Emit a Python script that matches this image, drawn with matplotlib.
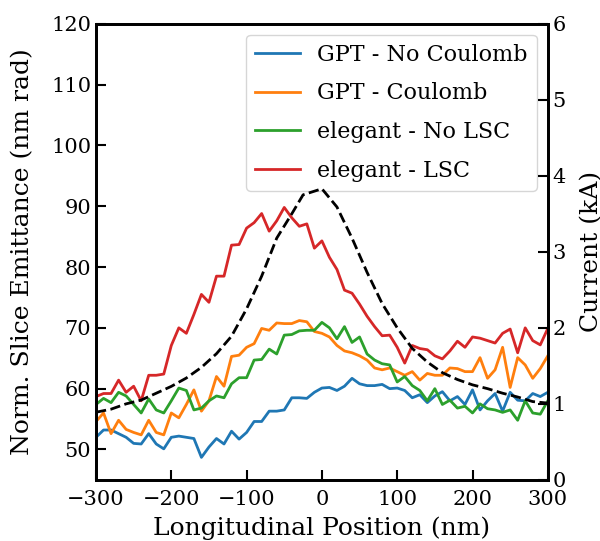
import numpy as np
import matplotlib.pyplot as plt

plt.rcParams.update({'font.size': 15, 'font.family': 'DejaVu Serif'})

# Slice positions (nm)
pos = np.arange(-300, 301, 10)

gpt_no_coulomb = [52.0, 53.2, 53.2, 52.6, 52.0, 51.0, 50.9, 52.6, 50.9, 50.1,
                  52.0, 52.2, 52.0, 51.8, 48.7, 50.4, 51.8, 50.9, 53.0, 51.7,
                  52.8, 54.6, 54.6, 56.3, 56.3, 56.5, 58.5, 58.5, 58.4, 59.4,
                  60.1, 60.2, 59.7, 60.4, 61.7, 60.8, 60.5, 60.5, 60.7, 60.0,
                  60.1, 59.7, 58.5, 59.0, 57.7, 58.8, 59.5, 58.0, 58.7, 57.4,
                  59.8, 56.5, 58.0, 59.2, 56.3, 59.4, 58.1, 58.0, 59.2, 58.7,
                  59.4]
gpt_coulomb = [54.6, 56.0, 52.6, 54.8, 53.3, 52.8, 52.4, 54.8, 52.8, 52.4,
               56.0, 55.2, 57.4, 59.8, 56.3, 58.0, 62.0, 60.4, 65.3, 65.5,
               66.8, 67.4, 69.9, 69.6, 70.8, 70.7, 70.7, 71.2, 71.0, 69.4,
               69.1, 68.5, 67.1, 66.2, 65.9, 65.4, 64.7, 63.4, 63.1, 63.4,
               62.8, 62.2, 62.8, 61.4, 62.5, 62.2, 62.2, 63.4, 63.3, 62.8,
               62.8, 65.1, 61.7, 63.1, 66.8, 60.2, 65.1, 63.9, 61.7, 63.3,
               65.4]
elegant_no_lsc = [57.4, 58.4, 57.7, 59.4, 58.8, 57.4, 56.0, 58.3, 56.5, 56.0,
                  58.0, 60.1, 59.7, 56.5, 56.8, 58.0, 58.8, 58.5, 60.8, 61.8,
                  61.8, 64.7, 64.8, 66.5, 65.7, 68.8, 68.9, 69.5, 69.6, 69.6,
                  70.9, 70.0, 68.2, 70.2, 67.6, 68.5, 65.7, 64.7, 64.1, 63.9,
                  61.1, 62.0, 60.5, 59.7, 58.0, 60.0, 57.4, 58.1, 56.8, 57.1,
                  56.0, 57.5, 56.7, 56.5, 56.1, 56.5, 54.8, 58.0, 56.0, 55.8,
                  58.0]
elegant_lsc = [58.7, 59.2, 59.2, 61.4, 59.4, 60.4, 58.0, 62.2, 62.2, 62.4,
               67.1, 70.0, 69.1, 72.2, 75.5, 74.2, 78.5, 78.5, 83.6, 83.7,
               86.4, 87.3, 88.8, 85.9, 87.6, 89.8, 88.1, 86.7, 87.1, 83.1,
               84.3, 81.6, 79.6, 76.2, 75.7, 73.9, 71.9, 70.2, 68.7, 68.8,
               66.8, 64.2, 67.1, 66.6, 66.4, 65.4, 64.9, 66.2, 67.8, 66.8,
               68.5, 68.3, 67.9, 67.5, 69.1, 69.8, 65.9, 70.0, 67.9, 67.2,
               69.9]

# Current profile (kA)
cur_pos = [-300, -280, -260, -240, -220, -200, -180, -160, -140, -120, -100,
           -80, -60, -40, -25, 0, 20, 40, 60, 80, 100, 120, 140, 160, 180,
           200, 220, 240, 260, 280, 300]
current = [0.89, 0.93, 1.00, 1.05, 1.14, 1.23, 1.34, 1.48, 1.66, 1.89, 2.25,
           2.68, 3.18, 3.50, 3.75, 3.83, 3.59, 3.18, 2.73, 2.32, 2.00, 1.73,
           1.55, 1.41, 1.32, 1.25, 1.20, 1.14, 1.09, 1.03, 1.01]

fig = plt.figure(figsize=(6.0, 5.41), dpi=100)
ax = fig.add_axes([0.16, 0.113, 0.753, 0.843])
ax2 = ax.twinx()

ax.plot(pos, gpt_no_coulomb, color='#1f77b4', lw=2, label='GPT - No Coulomb')
ax.plot(pos, gpt_coulomb, color='#ff7f0e', lw=2, label='GPT - Coulomb')
ax.plot(pos, elegant_no_lsc, color='#2ca02c', lw=2, label='elegant - No LSC')
ax.plot(pos, elegant_lsc, color='#d62728', lw=2, label='elegant - LSC')
ax2.plot(cur_pos, current, 'k--', lw=2)

ax.set_xlim(-300, 300)
ax.set_ylim(45, 120)
ax2.set_ylim(0, 6)
ax.set_xticks([-300, -200, -100, 0, 100, 200, 300])
ax.set_yticks(np.arange(50, 121, 10))
ax2.set_yticks(range(0, 7))

ax.set_xlabel("Longitudinal Position (nm)", fontsize=18, labelpad=6)
ax.set_ylabel("Norm. Slice Emittance (nm rad)", fontsize=18, labelpad=12)
ax2.set_ylabel("Current (kA)", fontsize=18, labelpad=10)

for a in (ax, ax2):
    a.tick_params(direction='in', length=7, width=1.5)
    for s in a.spines.values():
        s.set_linewidth(2)
ax.tick_params(axis='x', pad=7)
ax.tick_params(top=False)

ax.legend(loc='upper right', fontsize=16, labelspacing=0.75,
          framealpha=0.8, edgecolor='#cccccc')

fig.savefig("out.png", dpi=100)
